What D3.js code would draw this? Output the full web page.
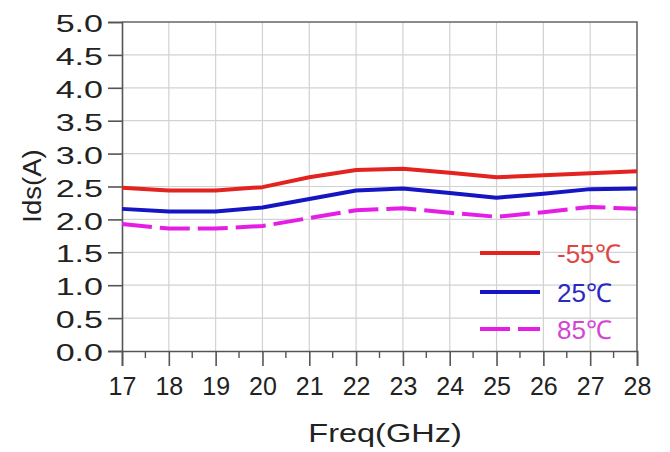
<!DOCTYPE html>
<html>
<head>
<meta charset="utf-8">
<script src="https://cdn.jsdelivr.net/npm/d3@7"></script>
<style>
  html, body { margin: 0; padding: 0; background: #fff; }
  svg { display: block; font-family: "Liberation Sans", Arial, sans-serif; }
</style>
</head>
<body>
<svg id="chart" width="670" height="452"></svg>
<script>
// Drain current vs frequency at three temperatures
const freqs = [17, 18, 19, 20, 21, 22, 23, 24, 25, 26, 27, 28];
const idsM55 = [2.48, 2.44, 2.44, 2.49, 2.64, 2.75, 2.77, 2.71, 2.64, 2.67, 2.70, 2.73];
const ids25 = [2.16, 2.12, 2.12, 2.18, 2.31, 2.44, 2.47, 2.40, 2.33, 2.39, 2.46, 2.47];
const ids85 = [1.93, 1.86, 1.86, 1.90, 2.02, 2.14, 2.17, 2.10, 2.04, 2.11, 2.19, 2.16];
const seriesNames = ["-55\u2103", "25\u2103", "85\u2103"];
const yTicks = [0, 0.5, 1, 1.5, 2, 2.5, 3, 3.5, 4, 4.5, 5];
const xTicks = [17, 18, 19, 20, 21, 22, 23, 24, 25, 26, 27, 28];
const xMinorTicks = [17.5, 18.5, 19.5, 20.5, 21.5, 22.5, 23.5, 24.5, 25.5, 26.5, 27.5];

const series = [
  { name: seriesNames[0], values: idsM55, color: "#e3231f", text: "#e04545", dash: null },
  { name: seriesNames[1], values: ids25, color: "#1515c4", text: "#2a2ac0", dash: null },
  { name: seriesNames[2], values: ids85, color: "#e41ee4", text: "#d345d3", dash: "30,8" }
];

const svg = d3.select("#chart");
const plot = { left: 122, right: 637, top: 22, bottom: 351 };

const x = d3.scaleLinear().domain([17, 28]).range([plot.left, plot.right]);
const y = d3.scaleLinear().domain([0, 5]).range([plot.bottom, plot.top]);

// grid
const grid = svg.append("g").attr("stroke", "#d2d2d2").attr("stroke-width", 1.2);
grid.selectAll("line.v").data(xTicks.slice(1, -1)).join("line")
  .attr("x1", d => x(d)).attr("x2", d => x(d))
  .attr("y1", plot.top).attr("y2", plot.bottom);
grid.selectAll("line.h").data(yTicks.slice(1, -1)).join("line")
  .attr("x1", plot.left).attr("x2", plot.right)
  .attr("y1", d => y(d)).attr("y2", d => y(d));

// frame (top and right)
svg.append("path")
  .attr("d", `M${plot.left},${plot.top}H${plot.right}V${plot.bottom}`)
  .attr("fill", "none").attr("stroke", "#666").attr("stroke-width", 1.6);

// y axis
const yAxis = svg.append("g")
  .attr("transform", `translate(${plot.left},0)`)
  .call(d3.axisLeft(y).tickValues(yTicks).tickFormat(d3.format(".1f")).tickSize(14).tickPadding(5));
yAxis.select(".domain").attr("stroke", "#555").attr("stroke-width", 1.6);
yAxis.selectAll(".tick line").attr("stroke", "#555").attr("stroke-width", 1.6);
yAxis.selectAll(".tick text")
  .attr("x", 0).attr("dy", "0.36em")
  .attr("transform", "translate(-19,1) scale(1.42,1)")
  .attr("font-size", 24).attr("fill", "#222");

// x axis
const xAxis = svg.append("g")
  .attr("transform", `translate(0,${plot.bottom})`)
  .call(d3.axisBottom(x).tickValues(xTicks).tickFormat(d3.format("d")).tickSize(15).tickPadding(11));
xAxis.select(".domain").attr("stroke", "#555").attr("stroke-width", 1.6);
xAxis.selectAll(".tick line").attr("stroke", "#555").attr("stroke-width", 1.6);
xAxis.selectAll(".tick text").attr("font-size", 25).attr("fill", "#222");
xAxis.selectAll("line.minor").data(xMinorTicks).join("line")
  .attr("class", "minor")
  .attr("x1", d => x(d)).attr("x2", d => x(d))
  .attr("y1", 0).attr("y2", 7)
  .attr("stroke", "#555").attr("stroke-width", 1.4);

// axis titles
svg.append("text")
  .attr("transform", "translate(385,442) scale(1.3,1)")
  .attr("text-anchor", "middle")
  .attr("font-size", 25).attr("fill", "#222")
  .text("Freq(GHz)");
svg.append("text")
  .attr("transform", "translate(41,186) rotate(-90) scale(1.1,1)")
  .attr("text-anchor", "middle")
  .attr("font-size", 25).attr("fill", "#222")
  .text("Ids(A)");

// curves
const line = d3.line()
  .x((d, i) => x(freqs[i]))
  .y(d => y(d));
svg.append("g").selectAll("path").data(series).join("path")
  .attr("d", d => line(d.values))
  .attr("fill", "none")
  .attr("stroke", d => d.color)
  .attr("stroke-width", 4)
  .attr("stroke-dasharray", d => d.dash)
  .attr("stroke-linejoin", "round");

// legend
const legY = [253, 292, 329];
const leg = svg.append("g").selectAll("g").data(series).join("g")
  .attr("transform", (d, i) => `translate(480,${legY[i]})`);
leg.append("line")
  .attr("x1", 0).attr("x2", 60).attr("y1", 0).attr("y2", 0)
  .attr("stroke", d => d.color).attr("stroke-width", 4)
  .attr("stroke-dasharray", d => d.dash);
leg.append("text")
  .attr("x", 77).attr("y", 10)
  .attr("font-size", 26)
  .attr("fill", d => d.text)
  .text(d => d.name);
</script>
</body>
</html>
